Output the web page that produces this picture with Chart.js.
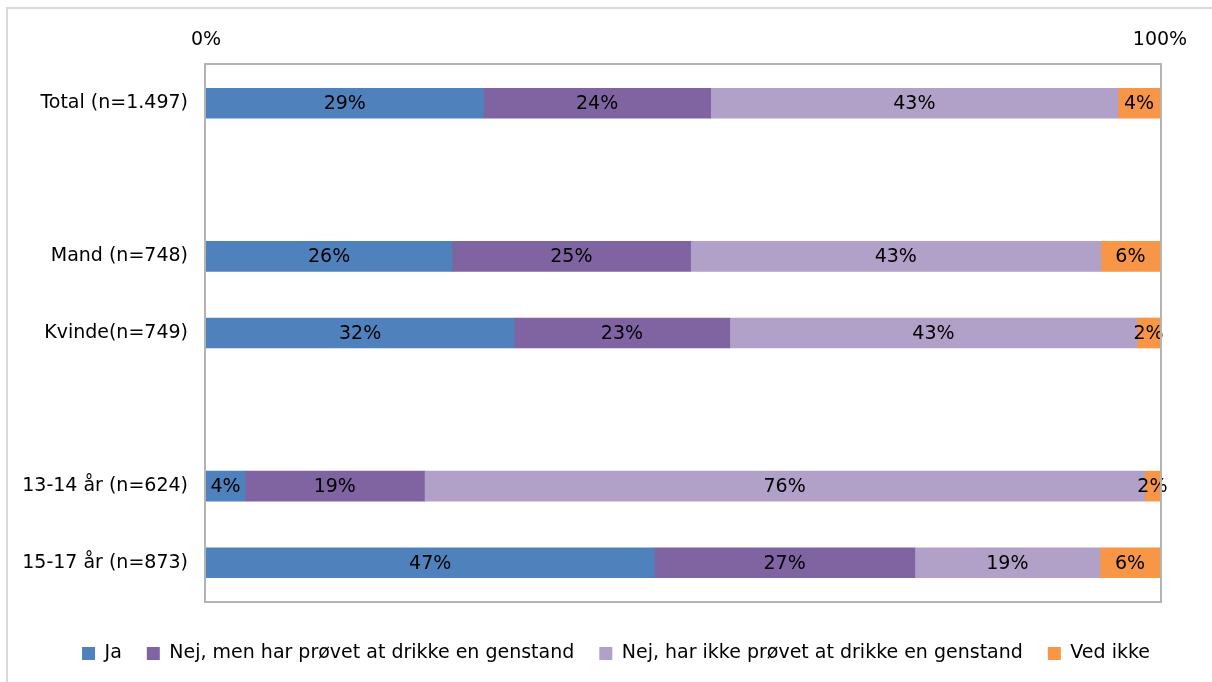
<!DOCTYPE html>
<html>
<head>
<meta charset="utf-8">
<script src="https://cdn.jsdelivr.net/npm/chart.js@4.4.0/dist/chart.umd.min.js"></script>
<style>
  html, body { margin: 0; padding: 0; background: #fff; }
  #wrap { width: 1212px; height: 682px; position: relative; }
</style>
</head>
<body>
<div id="wrap"><canvas id="bar-chart"></canvas></div>
<script>
var categories = ["Total (n=1.497)", "", "Mand (n=748)", "Kvinde(n=749)", "", "13-14 år (n=624)", "15-17 år (n=873)"];
var ja = [29.1, null, 25.8, 32.3, null, 4.1, 47.0];
var nejProevet = [23.8, null, 25.0, 22.6, null, 18.8, 27.3];
var nejIkke = [42.7, null, 43.0, 42.7, null, 75.5, 19.4];
var vedIkke = [4.4, null, 6.2, 2.4, null, 1.6, 6.3];
var seriesNames = ["Ja", "Nej, men har prøvet at drikke en genstand", "Nej, har ikke prøvet at drikke en genstand", "Ved ikke"];
var seriesColors = ["#4F81BD", "#8064A2", "#B1A0C7", "#F79646"];
var tickLabels = { 0: "0%", 100: "100%" };

var FONT = "'DejaVu Sans'";

// centered percent labels inside each segment
var barLabels = {
  id: 'barLabels',
  afterDatasetsDraw: function (chart) {
    var ctx = chart.ctx;
    ctx.save();
    ctx.font = "19px " + FONT;
    ctx.fillStyle = "#000";
    ctx.textAlign = "center";
    ctx.textBaseline = "middle";
    chart.data.datasets.forEach(function (ds, i) {
      var meta = chart.getDatasetMeta(i);
      meta.data.forEach(function (bar, j) {
        var v = ds.data[j];
        if (v == null) return;
        ctx.fillText(Math.round(v) + "%", (bar.x + bar.base) / 2, bar.y + 1);
      });
    });
    ctx.restore();
  }
};

// plot box and outer frame
var frames = {
  id: 'frames',
  beforeDraw: function (chart) {
    var ctx = chart.ctx;
    ctx.save();
    ctx.strokeStyle = "#D9D9D9";
    ctx.lineWidth = 2;
    ctx.beginPath();
    ctx.moveTo(7, 682);
    ctx.lineTo(7, 8);
    ctx.lineTo(1212, 8);
    ctx.stroke();
    ctx.restore();
  },
  afterDraw: function (chart) {
    var ctx = chart.ctx, a = chart.chartArea;
    ctx.save();
    ctx.strokeStyle = "#B3B3B3";
    ctx.lineWidth = 2;
    ctx.strokeRect(a.left - 1, a.top - 1, a.right - a.left + 2, a.bottom - a.top + 2);
    ctx.restore();
  }
};

Chart.defaults.font.family = FONT;
Chart.defaults.color = "#000";

new Chart(document.getElementById("bar-chart"), {
  type: 'bar',
  data: {
    labels: categories,
    datasets: [ja, nejProevet, nejIkke, vedIkke].map(function (d, i) {
      return {
        label: seriesNames[i],
        data: d,
        backgroundColor: seriesColors[i],
        borderWidth: 0,
        barThickness: 30
      };
    })
  },
  options: {
    indexAxis: 'y',
    responsive: true,
    maintainAspectRatio: false,
    animation: false,
    layout: { padding: { left: 20, right: 0, top: 20, bottom: 9 } },
    plugins: {
      legend: {
        position: 'bottom',
        labels: {
          boxWidth: 13,
          boxHeight: 13,
          padding: 25,
          font: { size: 19 },
          color: "#000"
        }
      },
      tooltip: { enabled: false }
    },
    scales: {
      x: {
        position: 'top',
        stacked: true,
        min: 0,
        max: 100,
        grid: { display: false, drawTicks: false },
        border: { display: false },
        ticks: {
          stepSize: 100,
          padding: 14,
          font: { size: 19 },
          callback: function (v) { return tickLabels[v]; }
        },
        afterFit: function (s) { s.height = 45; }
      },
      x2: {
        position: 'bottom',
        display: true,
        grid: { display: false, drawTicks: false },
        border: { display: false },
        ticks: { display: false },
        afterFit: function (s) { s.height = 18; }
      },
      y: {
        stacked: true,
        grid: { display: false, drawTicks: false },
        border: { display: false },
        ticks: { padding: 18, font: { size: 19 } },
        afterFit: function (s) { s.width = 186; }
      },
      y2: {
        type: 'linear',
        position: 'right',
        display: true,
        grid: { display: false, drawTicks: false },
        border: { display: false },
        ticks: { display: false },
        afterFit: function (s) { s.width = 52; }
      }
    }
  },
  plugins: [barLabels, frames]
});
</script>
</body>
</html>
